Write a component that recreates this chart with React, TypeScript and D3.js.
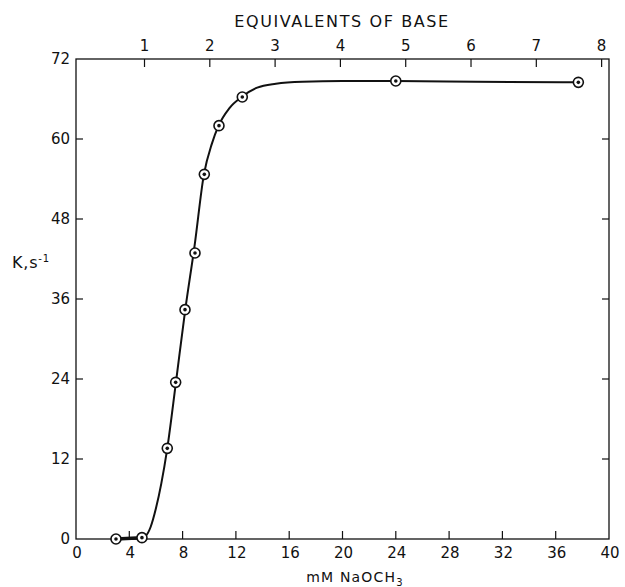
import React from "react";
import * as d3 from "d3";

// measured data points (mM NaOCH3, K s^-1)
const pointMM = [3.0, 4.95, 6.85, 7.48, 8.18, 8.93, 9.63, 10.73, 12.48, 24.0, 37.7];
const pointK = [0, 0.2, 13.6, 23.5, 34.4, 42.9, 54.7, 62.0, 66.3, 68.7, 68.5];

// drawn fit curve
const fitMM = [3, 4.95, 5.25, 5.6, 6.0, 6.4, 6.85, 7.5, 8.2, 8.9, 9.6, 10.2, 10.7, 11.5, 12.5, 13.6, 15, 17, 20, 24, 30, 37.7];
const fitK = [0, 0.2, 0.5, 1.8, 4.6, 8.3, 13.6, 23.5, 34.4, 44.0, 54.7, 59.3, 62, 64.6, 66.4, 67.7, 68.3, 68.6, 68.7, 68.7, 68.6, 68.5];

const xTicks = [0, 4, 8, 12, 16, 20, 24, 28, 32, 36, 40];
const yTicks = [0, 12, 24, 36, 48, 60, 72];
const eqTicks = [1, 2, 3, 4, 5, 6, 7, 8];

const W = 625;
const H = 587;
const L = 76, R = 609, T = 59, B = 539;
const FONT = "'DejaVu Sans', 'Liberation Sans', Arial, sans-serif";

export default function App() {
  const x = d3.scaleLinear().domain([0, 40]).range([L, R]);
  const y = d3.scaleLinear().domain([0, 72]).range([B, T]);
  const xEq = d3.scaleLinear().domain([-0.049, 8.113]).range([L, R]);

  const fit = fitMM.map((m, i) => [m, fitK[i]] as [number, number]);
  const line = d3
    .line<[number, number]>()
    .x((d) => x(d[0]))
    .y((d) => y(d[1]))
    .curve(d3.curveMonotoneX);
  const pts = pointMM.map((m, i) => [m, pointK[i]] as [number, number]);
  const flatSeg = d3
    .line<[number, number]>()
    .x((d) => x(d[0]))
    .y((d) => y(d[1]))(pts.slice(0, 2));

  const tick = 8;
  const ink = "#111";
  return (
    <svg
      width={W}
      height={H}
      style={{ position: "absolute", left: 0, top: 0, background: "#fff" }}
      fontFamily={FONT}
    >
      <rect x={0} y={0} width={W} height={H} fill="#fff" />
      {/* frame */}
      <rect x={L} y={T} width={R - L} height={B - T} fill="none" stroke={ink} strokeWidth={1.3} />

      {/* bottom ticks */}
      {xTicks.map((t) => (
        <g key={"xb" + t}>
          {t > 0 && t < 40 && (
            <line x1={x(t)} x2={x(t)} y1={B} y2={B - tick} stroke={ink} strokeWidth={1.2} />
          )}
          <text x={x(t) + 1} y={558} fontSize={15} textAnchor="middle" fill={ink}>
            {t}
          </text>
        </g>
      ))}

      {/* left & right ticks */}
      {yTicks.map((t) => (
        <g key={"y" + t}>
          {t > 0 && t < 72 && (
            <>
              <line x1={L} x2={L + 7} y1={y(t)} y2={y(t)} stroke={ink} strokeWidth={1.2} />
              <line x1={R} x2={R - 7} y1={y(t)} y2={y(t)} stroke={ink} strokeWidth={1.2} />
            </>
          )}
          <text x={70} y={y(t) + 5} fontSize={15} textAnchor="end" fill={ink}>
            {t}
          </text>
        </g>
      ))}

      {/* top equivalents axis */}
      {eqTicks.map((t) => (
        <g key={"eq" + t}>
          <line x1={xEq(t)} x2={xEq(t)} y1={T} y2={T + tick} stroke={ink} strokeWidth={1.2} />
          <text x={xEq(t)} y={51} fontSize={15} textAnchor="middle" fill={ink}>
            {t}
          </text>
        </g>
      ))}
      <text x={342} y={27} fontSize={16} textAnchor="middle" letterSpacing={1.6} fill={ink}>
        EQUIVALENTS OF BASE
      </text>

      {/* axis titles */}
      <text x={355} y={582} fontSize={14} textAnchor="middle" letterSpacing={1.2} fill={ink}>
        mM NaOCH
        <tspan fontSize={10} dy={4}>3</tspan>
      </text>
      <text x={12} y={268} fontSize={16} letterSpacing={0.8} fill={ink}>
        K,s
        <tspan fontSize={10} dy={-6}>-1</tspan>
      </text>

      {/* fit curve */}
      <path d={line(fit) ?? ""} fill="none" stroke={ink} strokeWidth={2} />
      <path d={flatSeg ?? ""} fill="none" stroke={ink} strokeWidth={3.5} />

      {/* points */}
      {pts.map((p, i) => (
        <g key={"p" + i}>
          <circle cx={x(p[0])} cy={y(p[1])} r={5} fill="#fff" stroke={ink} strokeWidth={1.6} />
          <circle cx={x(p[0])} cy={y(p[1])} r={1.8} fill={ink} />
        </g>
      ))}
    </svg>
  );
}
